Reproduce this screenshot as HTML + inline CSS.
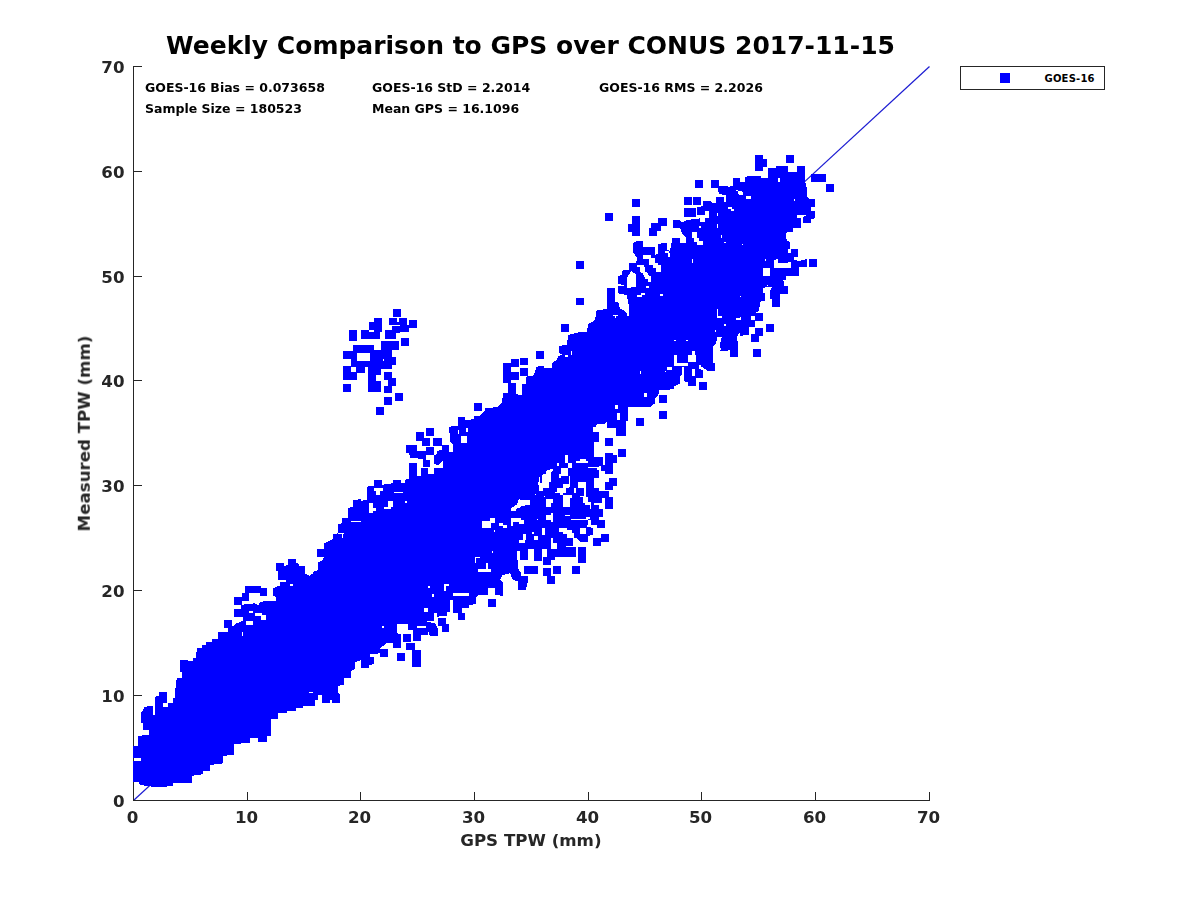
<!DOCTYPE html>
<html lang="en">
<head>
<meta charset="utf-8">
<title>Weekly Comparison to GPS over CONUS 2017-11-15</title>
<style>
html,body{margin:0;padding:0;background:#fff;}
body{width:1200px;height:900px;overflow:hidden;}
svg{display:block;}
text{font-family:"DejaVu Sans","Liberation Sans",sans-serif;font-weight:bold;}
.title{font-size:25px;fill:#000;}
.tick{font-size:16.67px;fill:#262626;}
.lab{font-size:16.67px;fill:#262626;}
.stat{font-size:12.5px;fill:#000;}
.leg{font-size:10px;fill:#000;}
</style>
</head>
<body>
<svg width="1200" height="900" viewBox="0 0 1200 900">
<rect x="0" y="0" width="1200" height="900" fill="#ffffff"/>
<line x1="133.5" y1="800.5" x2="929.5" y2="66.5" stroke="#1c1cd2" stroke-width="1.2"/>
<g fill="#262626" stroke="none" shape-rendering="crispEdges">
<rect x="133" y="66" width="1" height="735"/>
<rect x="133" y="800" width="797" height="1"/>
<rect x="133" y="792" width="1" height="9"/>
<rect x="247" y="792" width="1" height="9"/>
<rect x="360" y="792" width="1" height="9"/>
<rect x="474" y="792" width="1" height="9"/>
<rect x="588" y="792" width="1" height="9"/>
<rect x="701" y="792" width="1" height="9"/>
<rect x="815" y="792" width="1" height="9"/>
<rect x="929" y="792" width="1" height="9"/>
<rect x="133" y="66" width="9" height="1"/>
<rect x="133" y="171" width="9" height="1"/>
<rect x="133" y="276" width="9" height="1"/>
<rect x="133" y="380" width="9" height="1"/>
<rect x="133" y="485" width="9" height="1"/>
<rect x="133" y="590" width="9" height="1"/>
<rect x="133" y="695" width="9" height="1"/>
<rect x="133" y="800" width="9" height="1"/>
</g>
<g fill="#0000ff" stroke="none" shape-rendering="crispEdges">
<polygon points="132.5,781.7 132.5,760.8 140.8,760.8 140.8,757.5 132.5,757.5 132.5,745.8 138.3,745.8 138.3,735.8 149.2,735.0 149.2,730.0 143.3,730.0 143.3,723.3 141.3,723.3 141.3,712.5 145.0,706.7 152.5,705.8 153.3,715.0 155.0,715.0 155.0,696.7 159.2,695.8 159.2,691.7 166.7,691.7 166.7,703.3 163.3,703.3 163.3,706.7 167.5,706.7 167.5,703.0 172.5,703.0 172.5,698.3 175.0,698.3 175.0,691.7 176.7,678.3 181.7,678.3 181.7,671.7 180.0,671.7 180.0,659.7 187.5,659.7 187.5,661.3 193.3,661.3 193.3,657.5 195.8,657.5 196.7,650.0 330.0,650.0 330.0,702.5 321.7,702.5 321.7,695.0 317.5,695.0 317.5,700.0 315.0,700.0 315.0,705.8 303.3,705.8 303.3,707.5 295.8,707.5 295.8,710.8 286.7,710.8 286.7,713.3 277.5,713.3 277.5,719.2 270.8,719.2 270.8,735.8 266.7,735.8 266.7,741.7 257.5,741.7 257.5,738.3 250.0,738.3 250.0,742.5 234.2,744.2 234.2,755.0 223.3,755.8 223.3,763.3 210.0,765.0 210.0,770.8 203.3,770.8 203.3,774.2 191.7,775.8 191.7,783.3 173.3,783.3 173.3,785.8 158.3,787.5 140.0,785.0 138.3,781.7"/>
<polygon points="196.7,650.0 196.7,647.5 201.7,647.5 201.7,645.0 205.8,645.0 205.8,641.7 211.7,641.7 211.7,638.7 218.3,638.7 218.3,632.5 227.5,631.7 227.5,628.3 234.2,625.8 236.7,623.3 243.3,620.8 243.3,616.7 245.0,616.7 245.0,609.2 240.8,609.2 240.8,605.0 246.7,604.2 255.0,603.3 258.3,605.0 260.0,601.7 275.8,600.8 275.8,596.7 272.5,595.8 272.5,588.3 276.7,586.7 280.0,585.8 280.0,581.7 285.8,581.7 285.8,580.0 278.3,579.7 278.3,570.8 276.3,570.8 276.3,563.3 284.2,563.0 284.2,566.7 288.3,564.2 288.3,559.2 295.8,559.2 295.8,563.3 298.3,563.3 299.2,565.8 305.0,565.8 305.0,573.3 309.2,575.8 313.3,573.3 313.3,571.7 318.3,570.0 318.3,562.5 321.7,560.8 324.2,557.5 316.7,556.7 316.7,549.2 324.2,549.2 324.2,543.3 330.0,540.8 330.0,650.0"/>
<polygon points="330.0,700.0 340.0,700.0 340.0,695.0 337.5,691.7 337.5,685.8 344.2,685.0 344.2,678.3 350.8,677.5 350.8,670.8 355.0,669.2 355.0,662.5 360.8,660.0 360.8,668.3 369.2,668.3 369.2,665.0 373.7,664.2 373.7,656.7 370.0,656.7 370.0,654.2 380.0,653.3 380.0,648.3 386.7,643.3 392.5,642.5 392.5,648.3 400.8,648.3 400.8,634.2 396.7,633.3 396.7,624.2 408.3,624.2 408.3,630.0 412.5,630.0 412.5,640.8 420.8,640.8 420.8,635.0 428.3,635.0 428.3,631.7 430.0,635.8 437.5,635.8 437.5,628.3 435.0,623.3 426.7,621.7 426.7,620.0 434.2,619.2 434.2,612.5 436.7,612.5 436.7,616.7 446.7,615.8 446.7,612.5 450.0,611.7 450.0,600.0 453.3,600.0 453.3,612.5 457.5,613.3 457.5,620.0 464.7,620.0 464.7,613.3 461.7,612.5 461.7,608.3 469.2,608.3 469.2,605.0 475.8,604.2 475.8,598.3 478.3,595.0 488.3,595.0 488.3,587.5 495.0,587.5 495.0,595.0 502.5,595.0 502.5,582.5 500.0,580.0 502.5,575.0 510.0,573.3 512.5,579.2 519.2,580.8 518.3,589.2 525.8,589.2 525.8,581.7 527.5,576.7 520.8,575.8 520.0,571.7 517.5,566.7 518.3,557.5 520.0,557.5 520.0,550.0 330.0,550.0"/>
<polygon points="330.0,550.0 330.0,540.8 333.3,538.3 333.3,534.2 338.3,533.3 338.3,524.2 341.7,523.3 341.7,518.3 347.5,517.5 347.5,508.3 353.3,506.7 353.3,500.0 360.8,499.2 360.8,500.8 366.7,500.0 366.7,486.7 374.2,485.8 374.2,480.8 381.7,480.8 381.7,485.0 385.0,484.2 393.3,483.3 393.3,480.0 400.8,480.0 400.8,483.3 405.0,482.5 405.0,480.0 409.2,478.3 409.2,463.3 416.7,463.0 416.7,475.8 420.8,475.8 420.8,467.5 428.3,467.5 428.3,473.3 433.3,474.2 433.3,468.3 443.3,468.3 443.3,460.0 438.3,465.0 434.2,464.2 434.2,456.7 430.0,455.0 430.0,466.7 423.3,466.7 423.3,459.2 416.7,458.3 410.0,458.3 409.2,453.0 405.8,452.5 405.8,445.3 416.7,445.3 416.7,450.8 425.8,450.8 425.8,447.2 434.2,447.2 434.2,455.0 436.7,454.2 436.7,450.8 441.7,450.0 441.7,445.0 449.2,445.0 449.2,451.7 452.5,451.7 452.5,444.2 450.0,441.7 449.2,426.7 457.5,425.8 457.5,416.7 465.0,416.7 465.0,420.0 474.2,419.2 474.2,415.8 480.0,415.8 484.2,412.5 485.8,407.5 493.3,407.5 501.7,406.7 503.3,400.0 530.0,400.0 530.0,550.0"/>
<polygon points="480.0,410.0 486.7,410.0 486.7,407.5 496.7,407.5 501.7,403.3 503.3,393.3 507.5,392.5 507.5,383.3 515.8,382.5 515.8,394.2 521.7,395.0 521.7,384.2 525.8,384.2 525.8,376.7 533.3,375.8 536.7,366.7 544.2,365.8 544.2,368.3 551.7,367.5 551.7,363.3 556.7,360.0 558.3,355.8 563.3,355.0 559.2,353.3 559.2,345.8 566.7,345.0 568.3,335.0 578.3,332.5 586.7,331.7 588.3,324.2 595.0,320.0 596.7,310.0 606.7,309.2 607.5,288.3 615.0,288.3 615.0,301.7 618.3,302.5 620.0,308.3 625.8,311.7 627.5,315.8 629.2,315.8 629.2,306.7 626.7,295.0 618.3,293.3 618.3,286.7 625.8,285.0 618.3,284.2 618.3,276.7 621.7,275.8 622.5,270.8 629.2,270.0 629.2,265.0 635.8,263.3 636.7,260.0 680.0,260.0 680.0,383.3 673.3,386.7 673.3,389.2 659.2,390.0 659.2,393.3 655.0,399.2 655.0,403.3 650.0,406.7 626.7,406.7 626.7,410.0"/>
<polygon points="485.8,410.0 628.3,410.0 628.3,420.0 625.8,420.8 625.8,430.0 623.3,435.8 616.7,435.8 615.8,426.7 608.3,427.5 606.7,421.7 596.7,421.7 596.7,425.0 592.5,425.8 592.5,431.7 598.3,432.5 598.3,441.7 594.2,442.5 594.2,457.5 600.0,457.5 602.5,463.3 603.3,456.7 605.8,453.3 613.3,454.2 616.7,455.8 616.7,463.3 613.3,463.3 613.3,473.3 603.3,473.3 600.8,466.7 596.7,467.5 599.2,470.8 599.2,478.3 595.0,478.3 593.3,483.3 585.8,483.3 586.7,485.8 596.7,486.7 599.2,490.8 608.3,490.8 608.3,496.7 613.3,496.7 613.3,508.3 605.0,508.3 605.0,500.8 601.7,500.0 600.8,509.2 603.3,510.0 603.3,516.7 600.0,520.0 605.0,520.8 605.0,527.5 596.7,527.5 596.7,523.3 591.7,523.3 590.8,516.7 586.7,518.3 589.2,526.7 593.3,528.3 593.3,535.0 588.3,535.8 588.3,541.7 580.0,541.7 576.7,538.3 573.3,538.3 573.3,545.8 565.0,545.8 565.0,548.3 575.8,549.2 575.8,556.7 555.0,557.5 555.0,560.0 480.0,560.0 480.0,415.8"/>
<polygon points="500.0,540.0 518.3,540.0 518.3,551.7 516.7,570.0 520.8,572.5 520.8,575.8 527.5,575.8 527.5,583.3 525.8,590.0 518.0,590.0 518.0,581.7 512.5,579.2 510.8,571.7 506.7,573.3 500.0,570.0"/>
<polygon points="618.3,290.0 618.3,285.8 626.7,285.8 626.7,283.3 618.3,283.3 618.3,275.8 623.3,275.0 623.3,270.0 629.2,270.0 629.2,263.3 636.7,263.3 636.7,256.7 633.3,253.3 632.5,243.3 636.7,240.8 643.3,240.8 643.3,246.7 646.7,246.7 655.0,246.7 655.0,255.0 658.3,253.3 657.5,244.2 666.7,242.5 666.7,250.0 670.0,250.8 672.5,238.3 680.0,238.3 680.0,242.5 685.8,242.5 685.8,237.5 682.5,234.2 680.0,228.3 673.3,227.5 672.5,220.0 680.0,220.0 681.7,222.5 687.5,220.0 700.0,218.3 701.7,221.7 706.7,221.7 707.5,217.5 709.2,211.7 705.0,213.3 705.0,214.2 697.5,214.2 697.5,206.7 704.2,206.7 703.3,201.3 710.0,200.8 712.5,203.3 715.8,202.5 716.7,197.5 724.2,197.5 724.2,202.5 725.8,201.7 725.8,195.0 719.2,194.2 718.3,188.3 711.7,187.5 711.3,180.0 719.2,180.0 719.2,185.8 726.7,185.8 728.3,188.3 732.5,185.8 732.5,178.3 740.0,178.3 740.0,181.7 745.0,181.7 745.0,176.7 760.0,175.8 760.0,290.0"/>
<polygon points="700.0,280.0 700.0,206.7 703.3,205.8 703.3,201.7 710.8,201.3 710.8,204.2 715.8,203.3 715.8,197.5 724.2,196.7 724.2,203.3 726.7,203.3 726.7,194.2 723.3,194.2 718.3,191.7 718.3,186.7 727.5,185.8 727.5,187.5 732.5,185.8 732.5,178.3 740.0,178.3 740.0,182.5 745.0,181.7 745.0,178.3 747.5,176.3 760.8,176.3 761.7,178.3 768.0,178.3 768.0,168.0 775.8,168.0 775.8,165.8 787.5,165.8 787.5,171.7 796.7,172.5 797.0,166.3 804.7,166.3 804.7,180.0 806.7,187.5 806.7,196.7 809.2,199.2 815.0,199.2 815.0,206.7 811.3,207.5 811.3,210.8 815.0,211.3 815.0,218.3 810.8,219.2 810.8,223.3 803.3,223.3 803.3,216.7 806.7,215.0 796.7,215.3 796.7,218.3 800.8,218.3 800.8,227.5 792.5,227.5 792.5,231.7 786.7,231.7 785.8,235.8 778.3,235.8 778.3,234.2 785.8,233.3 786.7,240.8 790.0,241.7 790.0,249.2 798.3,249.2 798.3,256.7 794.2,257.5 794.2,260.0 799.2,260.8 806.7,259.2 806.7,266.7 799.2,267.0 799.2,275.8 785.8,275.8 785.8,280.0"/>
<polygon points="799.2,270.0 799.2,275.8 786.7,275.8 783.3,280.0 784.2,285.8 788.0,286.3 788.0,293.3 780.0,293.7 780.0,306.7 772.2,306.7 772.2,299.2 770.0,298.3 770.0,290.8 772.5,286.7 766.7,286.7 763.3,288.3 763.3,292.5 765.0,293.3 765.0,300.8 760.0,301.7 759.2,310.8 755.0,313.0 755.0,320.0 755.0,326.7 749.2,327.5 749.2,335.0 740.0,335.8 740.0,332.5 736.7,336.7 737.5,340.8 737.5,356.7 730.0,356.7 730.0,350.0 720.8,350.8 720.0,344.2 721.7,336.7 717.5,336.7 715.8,343.3 713.3,346.7 707.5,346.7 713.3,347.5 713.3,362.5 715.0,363.3 715.0,370.8 707.5,370.8 700.0,365.8 699.2,369.2 691.7,368.3 691.7,362.5 695.8,360.8 696.7,356.7 695.0,351.7 691.7,351.7 691.7,355.8 687.5,356.7 687.5,362.5 675.8,362.5 675.8,355.0 674.2,355.8 674.2,365.0 681.7,366.3 681.7,374.2 680.0,377.5 674.2,378.0 674.2,389.2 666.7,389.7 660.0,386.7 660.0,270.0"/>
<polygon points="713.3,350.0 713.3,362.5 715.0,363.3 715.0,370.8 707.5,370.8 706.7,365.8 700.8,365.8 699.2,369.2 703.3,370.0 703.3,377.5 695.8,377.5 695.8,385.8 688.3,385.8 688.3,381.7 684.2,380.8 684.2,366.7 681.7,366.7 681.7,374.2 680.0,377.5 674.2,378.3 674.2,389.2 666.7,389.7 658.3,389.2 658.3,393.3 655.0,394.2 655.0,400.8 650.8,401.7 650.8,406.7 643.3,406.7 642.5,403.3 638.3,403.3 637.5,406.7 628.3,406.7 627.5,408.3 627.5,420.8 625.8,421.7 625.8,430.0 624.2,430.8 624.2,435.8 616.3,435.8 616.3,427.5 607.5,427.5 606.7,421.7 605.0,424.2 596.7,424.2 596.7,421.7 595.8,426.7 592.0,426.7 592.0,431.7 599.2,432.5 599.2,441.7 594.2,442.5 594.2,456.7 602.5,457.5 602.5,465.0 605.0,465.0 605.0,454.2 612.5,453.3 616.7,455.0 616.7,462.5 612.5,463.3 612.5,473.3 605.0,473.7 601.7,470.0 600.8,465.8 599.2,466.7 599.2,477.5 594.2,478.3 594.2,484.2 596.7,488.3 603.3,491.7 608.3,491.7 609.2,496.7 612.5,497.5 612.5,500.0 580.0,500.0 580.0,350.0"/>
</g>
<g fill="#ffffff" stroke="none" shape-rendering="crispEdges">
<rect x="309.2" y="691.7" width="3.3" height="1.3"/>
<rect x="289.7" y="583.8" width="3.3" height="2.3"/>
<rect x="242.0" y="632.0" width="1.3" height="3.8"/>
<rect x="249.2" y="610.8" width="3.8" height="2.2"/>
<rect x="255.3" y="613.0" width="6.3" height="2.8"/>
<rect x="260.8" y="615.0" width="5.5" height="5.0"/>
<rect x="246.3" y="621.3" width="6.7" height="3.3"/>
<rect x="474.7" y="556.7" width="5.3" height="1.3"/>
<rect x="474.7" y="556.7" width="1.7" height="5.8"/>
<rect x="478.3" y="569.2" width="12.5" height="2.5"/>
<rect x="485.8" y="563.3" width="2.2" height="8.3"/>
<rect x="453.3" y="592.5" width="15.8" height="3.3"/>
<rect x="444.2" y="584.2" width="4.5" height="1.7"/>
<rect x="444.2" y="584.2" width="1.3" height="6.7"/>
<rect x="416.7" y="626.3" width="9.2" height="2.0"/>
<rect x="424.2" y="607.5" width="3.8" height="4.2"/>
<rect x="381.7" y="625.8" width="2.2" height="2.2"/>
<rect x="432.0" y="593.7" width="2.0" height="3.3"/>
<rect x="428.3" y="585.8" width="1.7" height="2.2"/>
<rect x="517.5" y="550.8" width="2.2" height="6.7"/>
<rect x="457.5" y="429.7" width="1.7" height="4.5"/>
<rect x="461.2" y="435.8" width="5.5" height="7.2"/>
<rect x="466.3" y="428.3" width="1.7" height="3.3"/>
<rect x="369.2" y="503.3" width="4.2" height="9.2"/>
<rect x="372.5" y="507.5" width="3.3" height="3.3"/>
<rect x="388.3" y="500.8" width="4.7" height="5.8"/>
<rect x="384.2" y="506.7" width="6.7" height="2.5"/>
<rect x="394.2" y="491.7" width="9.2" height="1.3"/>
<rect x="405.0" y="500.8" width="2.0" height="2.2"/>
<rect x="350.8" y="520.8" width="10.0" height="1.2"/>
<rect x="374.2" y="488.3" width="9.2" height="2.5"/>
<rect x="375.8" y="490.8" width="4.2" height="4.2"/>
<rect x="426.3" y="455.3" width="7.8" height="4.3"/>
<rect x="428.3" y="466.7" width="5.8" height="7.5"/>
<rect x="511.7" y="508.3" width="4.2" height="2.5"/>
<rect x="515.0" y="505.0" width="5.0" height="3.3"/>
<rect x="518.3" y="500.0" width="11.7" height="5.0"/>
<rect x="482.5" y="522.5" width="8.3" height="5.0"/>
<rect x="490.0" y="517.5" width="5.0" height="5.0"/>
<rect x="511.7" y="518.7" width="8.3" height="2.2"/>
<rect x="511.3" y="518.7" width="2.0" height="7.2"/>
<rect x="520.0" y="520.0" width="3.3" height="3.3"/>
<rect x="499.2" y="523.7" width="4.2" height="2.2"/>
<rect x="502.5" y="525.3" width="4.2" height="2.7"/>
<rect x="519.2" y="540.0" width="5.0" height="3.0"/>
<rect x="523.3" y="534.2" width="2.5" height="8.8"/>
<rect x="338.3" y="532.5" width="5.8" height="1.3"/>
<rect x="342.0" y="532.5" width="1.0" height="5.8"/>
<rect x="636.7" y="265.0" width="7.5" height="1.7"/>
<rect x="640.8" y="266.7" width="3.3" height="5.8"/>
<rect x="644.2" y="272.5" width="3.3" height="4.2"/>
<rect x="647.5" y="275.8" width="3.3" height="5.8"/>
<rect x="649.2" y="260.0" width="5.0" height="5.0"/>
<rect x="654.2" y="263.3" width="3.3" height="4.2"/>
<rect x="657.5" y="265.0" width="3.3" height="6.7"/>
<rect x="640.8" y="292.5" width="4.2" height="2.8"/>
<rect x="636.7" y="295.0" width="5.0" height="2.0"/>
<rect x="645.8" y="285.8" width="3.3" height="2.2"/>
<rect x="659.7" y="294.2" width="3.3" height="1.7"/>
<rect x="613.3" y="315.0" width="4.2" height="1.2"/>
<rect x="615.0" y="316.2" width="1.3" height="1.8"/>
<rect x="565.0" y="355.0" width="3.0" height="2.0"/>
<rect x="570.8" y="351.2" width="1.2" height="3.8"/>
<rect x="674.2" y="355.3" width="2.5" height="9.7"/>
<rect x="676.7" y="362.5" width="3.3" height="3.3"/>
<rect x="666.7" y="366.7" width="5.0" height="3.3"/>
<rect x="640.0" y="370.8" width="1.0" height="3.0"/>
<rect x="644.2" y="392.5" width="3.0" height="4.5"/>
<rect x="615.0" y="405.0" width="3.0" height="4.2"/>
<rect x="673.8" y="339.7" width="2.2" height="1.3"/>
<polygon points="630.8,270.8 635.8,274.2 635.8,285.0 630.8,287.5 626.7,287.5 626.7,277.5 630.8,276.7"/>
<rect x="565.0" y="455.0" width="3.0" height="8.3"/>
<rect x="566.7" y="463.3" width="5.0" height="4.2"/>
<rect x="560.8" y="467.5" width="7.5" height="8.3"/>
<rect x="559.2" y="473.3" width="2.5" height="4.2"/>
<rect x="557.0" y="463.0" width="2.2" height="2.8"/>
<rect x="556.7" y="487.5" width="9.2" height="5.8"/>
<rect x="562.5" y="493.3" width="7.5" height="13.3"/>
<rect x="566.7" y="485.0" width="3.3" height="3.3"/>
<rect x="578.3" y="481.7" width="7.5" height="6.7"/>
<rect x="580.0" y="488.3" width="4.2" height="8.3"/>
<rect x="582.5" y="495.8" width="5.0" height="7.5"/>
<rect x="574.2" y="487.5" width="2.2" height="5.8"/>
<rect x="588.3" y="467.5" width="10.8" height="1.2"/>
<rect x="545.8" y="500.8" width="7.5" height="5.8"/>
<rect x="545.8" y="514.2" width="7.2" height="7.2"/>
<rect x="481.7" y="520.8" width="9.2" height="6.7"/>
<rect x="490.8" y="517.5" width="4.2" height="4.2"/>
<rect x="499.2" y="523.3" width="3.3" height="2.5"/>
<rect x="502.5" y="525.0" width="4.2" height="2.5"/>
<rect x="510.8" y="518.3" width="10.0" height="3.3"/>
<rect x="510.8" y="518.3" width="2.5" height="7.5"/>
<rect x="519.2" y="520.0" width="4.5" height="4.2"/>
<rect x="536.7" y="518.7" width="1.3" height="1.3"/>
<rect x="565.0" y="514.7" width="5.0" height="1.3"/>
<rect x="570.8" y="518.7" width="19.2" height="1.3"/>
<rect x="586.7" y="517.5" width="4.2" height="9.2"/>
<rect x="559.2" y="528.3" width="7.5" height="3.3"/>
<rect x="563.3" y="530.0" width="8.3" height="4.2"/>
<rect x="566.7" y="533.3" width="7.5" height="5.0"/>
<rect x="580.0" y="527.5" width="5.8" height="6.7"/>
<rect x="541.7" y="527.5" width="3.3" height="7.5"/>
<rect x="531.7" y="531.7" width="2.5" height="2.5"/>
<rect x="533.7" y="535.8" width="4.3" height="5.0"/>
<rect x="524.2" y="534.2" width="2.2" height="5.8"/>
<rect x="519.2" y="539.7" width="5.0" height="3.3"/>
<rect x="550.8" y="538.3" width="2.5" height="10.0"/>
<rect x="553.3" y="543.3" width="3.3" height="5.0"/>
<rect x="565.0" y="544.2" width="1.7" height="2.5"/>
<rect x="517.0" y="550.8" width="3.0" height="9.2"/>
<rect x="528.3" y="549.2" width="5.8" height="10.8"/>
<rect x="542.0" y="549.2" width="5.0" height="10.8"/>
<rect x="493.7" y="529.7" width="1.3" height="2.0"/>
<rect x="492.0" y="550.8" width="1.0" height="2.5"/>
<rect x="535.0" y="494.2" width="1.3" height="1.2"/>
<rect x="544.2" y="495.8" width="1.2" height="1.2"/>
<rect x="590.0" y="505.0" width="1.3" height="3.3"/>
<rect x="600.0" y="465.8" width="1.2" height="5.0"/>
<rect x="617.5" y="413.3" width="2.2" height="6.7"/>
<rect x="604.2" y="500.0" width="1.2" height="3.3"/>
<polygon points="575.8,461.7 580.0,459.2 585.8,459.2 588.0,463.0 575.8,463.0"/>
<polygon points="546.7,470.0 552.5,469.2 551.7,476.7 550.0,483.3 543.3,484.2 542.5,490.8 539.2,490.8 538.3,483.3 540.0,475.0 545.8,474.2"/>
<polygon points="519.2,499.2 522.5,500.8 530.0,500.8 530.0,505.0 522.5,505.8 516.7,508.3 515.8,510.8 510.8,510.8 511.7,507.5 516.7,505.0"/>
<rect x="691.7" y="231.7" width="5.0" height="6.7"/>
<rect x="694.2" y="237.5" width="5.0" height="4.2"/>
<rect x="696.7" y="240.8" width="6.3" height="4.2"/>
<rect x="643.3" y="255.0" width="7.5" height="4.2"/>
<rect x="649.2" y="258.3" width="5.8" height="5.8"/>
<rect x="653.3" y="263.3" width="5.0" height="5.0"/>
<rect x="655.8" y="266.7" width="5.0" height="5.0"/>
<rect x="636.7" y="265.0" width="5.0" height="1.7"/>
<rect x="640.0" y="266.7" width="5.0" height="5.0"/>
<rect x="642.5" y="271.7" width="4.2" height="3.7"/>
<rect x="645.0" y="275.0" width="4.2" height="4.2"/>
<rect x="647.5" y="278.3" width="3.3" height="3.3"/>
<rect x="665.0" y="250.8" width="4.2" height="2.5"/>
<rect x="668.3" y="253.3" width="1.3" height="3.3"/>
<rect x="745.8" y="195.8" width="5.0" height="3.3"/>
<rect x="735.8" y="189.7" width="2.5" height="1.3"/>
<rect x="738.0" y="191.7" width="4.5" height="2.5"/>
<rect x="728.3" y="206.7" width="3.3" height="2.0"/>
<rect x="731.7" y="208.7" width="2.5" height="2.2"/>
<rect x="716.7" y="212.5" width="1.3" height="3.3"/>
<rect x="716.7" y="224.2" width="1.3" height="4.2"/>
<rect x="720.8" y="235.8" width="1.2" height="2.2"/>
<rect x="724.2" y="241.7" width="1.7" height="1.3"/>
<rect x="741.7" y="243.7" width="1.7" height="1.3"/>
<rect x="691.7" y="258.7" width="1.3" height="4.3"/>
<rect x="699.2" y="225.8" width="2.2" height="2.2"/>
<rect x="646.2" y="285.8" width="3.0" height="2.2"/>
<polygon points="630.8,271.7 635.8,278.3 635.8,286.7 626.7,286.7 626.7,278.3"/>
<rect x="745.8" y="195.8" width="5.0" height="3.0"/>
<rect x="778.0" y="178.0" width="2.0" height="4.0"/>
<rect x="737.5" y="191.3" width="4.2" height="2.0"/>
<rect x="739.2" y="193.0" width="3.8" height="2.0"/>
<rect x="728.0" y="207.0" width="3.7" height="1.7"/>
<rect x="730.8" y="208.7" width="3.3" height="2.2"/>
<rect x="700.0" y="215.0" width="5.0" height="6.7"/>
<rect x="705.0" y="211.3" width="3.7" height="6.2"/>
<rect x="716.7" y="212.5" width="1.3" height="3.3"/>
<rect x="716.7" y="224.2" width="1.3" height="4.2"/>
<rect x="720.8" y="235.3" width="1.2" height="2.7"/>
<rect x="724.2" y="242.0" width="2.2" height="1.3"/>
<rect x="741.7" y="243.7" width="1.3" height="1.3"/>
<rect x="700.0" y="242.0" width="3.0" height="2.7"/>
<rect x="763.0" y="268.3" width="7.0" height="8.0"/>
<rect x="788.0" y="249.2" width="2.8" height="3.8"/>
<rect x="764.7" y="258.7" width="1.3" height="2.2"/>
<rect x="793.8" y="198.7" width="1.2" height="2.2"/>
<polygon points="774.2,260.0 777.5,259.2 777.5,263.0 788.3,262.5 790.8,261.7 790.8,268.0 774.2,268.0"/>
<rect x="763.3" y="270.0" width="6.7" height="5.8"/>
<rect x="716.7" y="309.2" width="1.3" height="8.3"/>
<rect x="718.0" y="316.3" width="4.0" height="1.7"/>
<rect x="736.3" y="317.5" width="4.8" height="2.5"/>
<rect x="740.0" y="316.7" width="1.2" height="3.3"/>
<rect x="724.2" y="323.7" width="2.0" height="2.5"/>
<rect x="750.8" y="315.8" width="4.2" height="4.2"/>
<rect x="674.2" y="339.7" width="2.0" height="1.2"/>
<rect x="686.2" y="340.0" width="1.8" height="1.0"/>
<rect x="660.0" y="294.2" width="3.0" height="1.2"/>
<rect x="740.0" y="295.8" width="1.2" height="1.3"/>
<rect x="715.0" y="330.0" width="1.2" height="2.0"/>
<rect x="666.7" y="367.0" width="5.3" height="3.0"/>
<rect x="767.2" y="284.7" width="1.2" height="1.7"/>
<rect x="674.2" y="355.0" width="2.5" height="10.8"/>
<rect x="676.7" y="362.5" width="11.7" height="3.3"/>
<rect x="688.3" y="355.0" width="7.5" height="6.7"/>
<rect x="692.0" y="350.8" width="3.0" height="5.0"/>
<rect x="666.7" y="366.7" width="5.5" height="3.3"/>
<rect x="692.0" y="369.2" width="3.0" height="6.7"/>
<rect x="699.2" y="365.0" width="1.7" height="3.7"/>
<rect x="640.0" y="370.8" width="1.0" height="3.0"/>
<rect x="644.2" y="392.5" width="3.0" height="4.7"/>
<rect x="615.0" y="405.0" width="3.0" height="4.2"/>
<rect x="617.0" y="413.3" width="3.0" height="6.3"/>
<rect x="580.0" y="459.2" width="7.5" height="4.2"/>
<rect x="588.3" y="466.7" width="10.8" height="1.3"/>
<rect x="580.0" y="488.3" width="3.3" height="8.3"/>
<rect x="665.3" y="370.8" width="1.0" height="1.3"/>
</g>
<g fill="#0000ff" stroke="none" shape-rendering="crispEdges">
<rect x="224.2" y="620.3" width="7.8" height="8.0"/>
<rect x="234.2" y="609.2" width="10.8" height="7.5"/>
<rect x="234.2" y="596.7" width="7.5" height="8.3"/>
<rect x="241.7" y="593.3" width="7.5" height="7.5"/>
<rect x="245.0" y="586.3" width="15.8" height="7.0"/>
<rect x="260.0" y="588.3" width="7.0" height="8.0"/>
<rect x="380.0" y="649.2" width="7.8" height="7.5"/>
<rect x="397.2" y="653.0" width="7.8" height="7.8"/>
<rect x="403.3" y="634.2" width="7.8" height="7.8"/>
<rect x="405.8" y="642.5" width="9.2" height="7.5"/>
<rect x="412.2" y="649.7" width="8.7" height="8.7"/>
<rect x="411.7" y="658.3" width="9.2" height="8.3"/>
<rect x="488.3" y="598.8" width="7.8" height="7.8"/>
<rect x="438.3" y="618.0" width="7.5" height="7.8"/>
<rect x="441.7" y="624.2" width="7.2" height="7.5"/>
<rect x="524.2" y="565.8" width="5.8" height="7.5"/>
<rect x="520.8" y="550.8" width="6.7" height="7.5"/>
<rect x="417.5" y="613.0" width="16.7" height="7.8"/>
<rect x="376.3" y="407.2" width="7.8" height="7.8"/>
<rect x="384.2" y="400.0" width="7.5" height="4.2"/>
<rect x="474.2" y="403.0" width="7.8" height="7.8"/>
<rect x="425.8" y="428.0" width="7.8" height="7.8"/>
<rect x="416.3" y="432.2" width="7.8" height="8.7"/>
<rect x="421.7" y="437.5" width="8.3" height="8.3"/>
<rect x="432.5" y="438.3" width="9.5" height="8.0"/>
<rect x="425.8" y="447.2" width="8.3" height="7.8"/>
<rect x="374.2" y="480.0" width="7.8" height="8.0"/>
<rect x="576.3" y="261.3" width="7.5" height="7.5"/>
<rect x="576.3" y="297.5" width="7.5" height="7.5"/>
<rect x="561.3" y="324.2" width="7.8" height="7.8"/>
<rect x="536.2" y="351.2" width="7.7" height="7.7"/>
<rect x="520.0" y="357.5" width="7.8" height="7.8"/>
<rect x="659.2" y="395.0" width="7.5" height="7.5"/>
<rect x="503.3" y="363.3" width="7.5" height="8.0"/>
<rect x="503.3" y="371.3" width="7.5" height="12.0"/>
<rect x="510.8" y="359.2" width="7.8" height="7.5"/>
<rect x="510.8" y="372.0" width="7.8" height="8.0"/>
<rect x="520.0" y="368.3" width="7.8" height="7.8"/>
<rect x="507.5" y="383.3" width="8.3" height="10.0"/>
<rect x="659.2" y="411.3" width="7.8" height="7.5"/>
<rect x="636.3" y="418.0" width="7.8" height="7.8"/>
<rect x="605.3" y="438.3" width="7.7" height="7.5"/>
<rect x="618.0" y="449.2" width="7.8" height="7.8"/>
<rect x="609.2" y="478.0" width="7.8" height="7.8"/>
<rect x="605.0" y="482.0" width="7.8" height="7.7"/>
<rect x="600.8" y="534.2" width="7.8" height="7.5"/>
<rect x="593.3" y="538.0" width="7.8" height="7.8"/>
<rect x="578.3" y="547.0" width="7.5" height="13.0"/>
<rect x="596.7" y="520.0" width="8.0" height="7.8"/>
<rect x="605.0" y="497.0" width="8.0" height="11.3"/>
<rect x="615.8" y="420.8" width="10.0" height="15.0"/>
<rect x="500.0" y="582.5" width="3.0" height="13.3"/>
<rect x="520.0" y="543.3" width="8.0" height="15.0"/>
<rect x="525.0" y="540.0" width="25.0" height="9.2"/>
<rect x="534.2" y="548.3" width="7.8" height="12.5"/>
<rect x="543.3" y="556.7" width="7.5" height="8.0"/>
<rect x="547.5" y="546.7" width="28.3" height="10.0"/>
<rect x="553.3" y="540.0" width="12.5" height="7.5"/>
<rect x="565.8" y="540.0" width="7.5" height="5.8"/>
<rect x="578.3" y="546.7" width="7.8" height="15.8"/>
<rect x="524.2" y="565.8" width="13.8" height="8.0"/>
<rect x="543.0" y="568.0" width="7.8" height="7.8"/>
<rect x="547.2" y="575.8" width="7.8" height="7.8"/>
<rect x="553.3" y="565.8" width="7.8" height="8.0"/>
<rect x="572.0" y="565.8" width="8.0" height="8.0"/>
<rect x="593.3" y="540.0" width="7.8" height="5.5"/>
<rect x="600.0" y="540.0" width="9.2" height="1.7"/>
<rect x="580.0" y="540.0" width="7.5" height="1.7"/>
<rect x="518.0" y="581.7" width="7.8" height="8.3"/>
<rect x="755.0" y="155.0" width="5.0" height="15.8"/>
<rect x="695.0" y="180.0" width="8.0" height="8.0"/>
<rect x="684.2" y="197.2" width="7.8" height="7.8"/>
<rect x="693.0" y="197.2" width="7.8" height="7.8"/>
<rect x="684.2" y="207.5" width="11.7" height="9.2"/>
<rect x="697.0" y="206.7" width="7.7" height="8.0"/>
<rect x="632.0" y="199.2" width="8.0" height="7.8"/>
<rect x="605.0" y="213.0" width="8.0" height="7.8"/>
<rect x="632.0" y="216.2" width="8.0" height="19.7"/>
<rect x="628.3" y="224.2" width="4.2" height="7.5"/>
<rect x="658.3" y="218.3" width="8.3" height="7.5"/>
<rect x="650.8" y="222.5" width="10.0" height="8.3"/>
<rect x="649.2" y="228.3" width="7.8" height="7.5"/>
<rect x="576.2" y="261.2" width="7.8" height="7.7"/>
<rect x="607.2" y="288.0" width="7.8" height="2.0"/>
<rect x="647.0" y="247.2" width="8.0" height="7.8"/>
<rect x="755.3" y="155.0" width="7.7" height="15.8"/>
<rect x="762.5" y="159.2" width="4.5" height="7.8"/>
<rect x="786.2" y="155.0" width="7.7" height="7.8"/>
<rect x="811.3" y="173.8" width="14.5" height="7.8"/>
<rect x="826.2" y="183.8" width="7.7" height="7.8"/>
<rect x="809.2" y="259.2" width="7.8" height="7.8"/>
<rect x="710.8" y="180.0" width="7.8" height="7.5"/>
<rect x="700.0" y="180.0" width="3.0" height="7.5"/>
<rect x="700.0" y="196.7" width="1.3" height="8.3"/>
<rect x="755.3" y="313.0" width="7.7" height="7.8"/>
<rect x="766.2" y="324.2" width="7.8" height="7.8"/>
<rect x="755.3" y="328.0" width="7.7" height="7.8"/>
<rect x="751.3" y="334.2" width="7.8" height="7.8"/>
<rect x="753.3" y="349.2" width="7.8" height="7.8"/>
<rect x="695.5" y="370.0" width="7.5" height="7.8"/>
<rect x="684.5" y="366.3" width="7.2" height="15.3"/>
<rect x="688.0" y="377.5" width="7.8" height="8.3"/>
<rect x="699.2" y="382.0" width="7.8" height="8.0"/>
<rect x="660.0" y="395.0" width="7.0" height="7.8"/>
<rect x="660.0" y="411.3" width="7.0" height="7.5"/>
<rect x="772.2" y="286.7" width="15.8" height="7.0"/>
<rect x="659.2" y="395.0" width="7.8" height="7.8"/>
<rect x="659.2" y="411.2" width="7.8" height="7.7"/>
<rect x="636.2" y="418.0" width="7.7" height="7.8"/>
<rect x="605.0" y="438.0" width="7.8" height="7.8"/>
<rect x="618.0" y="449.2" width="7.8" height="7.8"/>
<rect x="699.2" y="382.0" width="7.8" height="7.7"/>
<rect x="695.0" y="370.0" width="7.8" height="7.5"/>
<rect x="730.0" y="350.0" width="7.8" height="6.7"/>
<rect x="753.3" y="350.0" width="7.5" height="6.7"/>
<rect x="720.0" y="350.0" width="7.5" height="0.8"/>
<rect x="609.2" y="478.0" width="7.8" height="7.8"/>
<rect x="605.0" y="482.5" width="7.8" height="7.5"/>
<rect x="616.3" y="420.0" width="9.5" height="15.8"/>
<rect x="393.3" y="309.1" width="7.6" height="7.6"/>
<rect x="374.0" y="318.0" width="8.0" height="8.0"/>
<rect x="368.7" y="322.0" width="8.0" height="8.0"/>
<rect x="361.3" y="330.0" width="18.7" height="9.3"/>
<rect x="375.3" y="326.0" width="6.7" height="6.0"/>
<rect x="349.3" y="330.0" width="7.3" height="11.3"/>
<rect x="388.7" y="318.0" width="18.7" height="7.3"/>
<rect x="408.7" y="320.0" width="8.0" height="8.0"/>
<rect x="400.0" y="325.3" width="9.3" height="6.7"/>
<rect x="392.0" y="326.0" width="8.0" height="7.3"/>
<rect x="384.7" y="330.0" width="11.3" height="9.3"/>
<rect x="401.3" y="338.0" width="7.6" height="7.7"/>
<rect x="380.7" y="341.3" width="18.7" height="8.7"/>
<rect x="353.3" y="345.3" width="20.7" height="8.0"/>
<rect x="343.3" y="351.3" width="13.3" height="7.3"/>
<rect x="351.3" y="358.7" width="18.7" height="8.0"/>
<rect x="370.0" y="350.0" width="22.0" height="19.3"/>
<rect x="388.7" y="357.3" width="7.3" height="7.3"/>
<rect x="343.3" y="366.0" width="8.0" height="14.0"/>
<rect x="351.3" y="372.0" width="5.3" height="8.0"/>
<rect x="356.0" y="366.7" width="8.7" height="6.7"/>
<rect x="368.0" y="365.3" width="13.3" height="26.7"/>
<rect x="384.0" y="372.0" width="8.0" height="8.0"/>
<rect x="388.0" y="378.0" width="8.0" height="8.0"/>
<rect x="384.0" y="386.0" width="8.0" height="7.3"/>
<rect x="343.3" y="384.0" width="7.6" height="7.7"/>
<rect x="395.3" y="393.3" width="7.6" height="7.6"/>
<rect x="384.3" y="396.9" width="7.6" height="7.6"/>
<rect x="376.3" y="407.3" width="7.7" height="7.6"/>
<rect x="331.7" y="695.0" width="7.8" height="7.7"/>
</g>
<g fill="#ffffff" stroke="none" shape-rendering="crispEdges">
<rect x="368.7" y="330.0" width="5.3" height="2.0"/>
<rect x="376.0" y="375.3" width="5.5" height="6.0"/>
<rect x="382.7" y="358.7" width="1.3" height="2.7"/>
<rect x="357.3" y="353.3" width="12.7" height="7.3"/>
<rect x="396.7" y="318.0" width="2.7" height="4.0"/>
<rect x="351.3" y="366.7" width="4.7" height="5.3"/>
<rect x="551.3" y="543.3" width="5.8" height="5.5"/>
</g>
<g shape-rendering="crispEdges" stroke="none">
<g fill="#ffffff"><rect x="540.0" y="450.0" width="100.0" height="75.0"/>
</g>
<g fill="#0000ff">
<rect x="540.0" y="450.0" width="53.8" height="75.0"/>
<rect x="593.8" y="457.1" width="9.2" height="8.8"/>
<rect x="593.8" y="465.8" width="5.0" height="12.5"/>
<rect x="605.0" y="452.9" width="8.3" height="9.6"/>
<rect x="609.2" y="455.0" width="7.9" height="7.9"/>
<rect x="617.9" y="450.0" width="7.9" height="6.7"/>
<rect x="601.2" y="465.0" width="7.9" height="5.8"/>
<rect x="605.0" y="462.9" width="7.9" height="10.8"/>
<rect x="609.2" y="478.3" width="7.9" height="7.5"/>
<rect x="605.0" y="482.1" width="7.9" height="7.5"/>
<rect x="586.2" y="485.8" width="7.9" height="8.3"/>
<rect x="594.2" y="487.9" width="5.0" height="2.9"/>
<rect x="590.0" y="490.8" width="19.2" height="6.7"/>
<rect x="588.3" y="495.0" width="13.3" height="7.5"/>
<rect x="605.0" y="497.1" width="7.9" height="11.7"/>
<rect x="591.2" y="505.0" width="7.9" height="20.0"/>
<rect x="599.2" y="509.2" width="3.8" height="7.5"/>
<rect x="597.5" y="520.0" width="7.5" height="5.0"/>
</g>
<g fill="#ffffff">
<rect x="565.0" y="455.0" width="2.9" height="8.3"/>
<rect x="567.9" y="462.9" width="4.2" height="5.0"/>
<rect x="557.1" y="462.9" width="2.1" height="2.9"/>
<rect x="560.8" y="467.5" width="7.1" height="8.3"/>
<rect x="559.2" y="474.2" width="2.1" height="3.8"/>
<rect x="576.2" y="460.8" width="11.7" height="2.1"/>
<rect x="580.0" y="459.0" width="5.8" height="1.8"/>
<rect x="587.9" y="467.1" width="10.8" height="1.2"/>
<rect x="596.7" y="468.3" width="4.2" height="2.1"/>
<rect x="568.8" y="476.2" width="1.2" height="10.4"/>
<rect x="562.9" y="484.2" width="5.8" height="4.2"/>
<rect x="557.1" y="487.9" width="9.2" height="4.6"/>
<rect x="555.0" y="492.1" width="2.9" height="1.2"/>
<rect x="559.6" y="492.5" width="3.3" height="2.9"/>
<rect x="562.9" y="495.4" width="8.8" height="2.1"/>
<rect x="562.9" y="497.5" width="7.1" height="9.6"/>
<rect x="577.9" y="482.1" width="7.9" height="5.8"/>
<rect x="574.2" y="487.9" width="1.8" height="5.0"/>
<rect x="583.8" y="487.9" width="1.9" height="8.8"/>
<rect x="580.0" y="495.8" width="3.8" height="1.2"/>
<rect x="582.5" y="496.7" width="5.4" height="6.2"/>
<rect x="585.4" y="502.1" width="5.4" height="2.9"/>
<rect x="589.8" y="505.0" width="1.2" height="3.8"/>
<rect x="546.2" y="499.2" width="6.7" height="4.2"/>
<rect x="545.8" y="503.3" width="5.0" height="3.8"/>
<rect x="550.8" y="512.9" width="2.1" height="8.8"/>
<rect x="546.2" y="515.0" width="4.6" height="5.0"/>
<rect x="565.0" y="514.8" width="5.0" height="1.2"/>
<rect x="571.2" y="518.8" width="17.1" height="1.2"/>
<rect x="586.2" y="517.1" width="3.8" height="2.1"/>
<rect x="587.9" y="520.0" width="3.3" height="5.0"/>
<rect x="543.8" y="495.8" width="1.2" height="1.0"/>
<polygon points="552.9,469.3 548.3,469.6 546.2,471.2 545.8,473.8 542.9,474.2 541.7,475.8 541.7,483.3 540.0,483.3 540.0,490.8 543.3,490.8 543.3,488.3 548.8,487.9 548.8,482.1 550.8,481.7 550.8,476.7 551.7,470.8 552.9,470.4"/>
</g>
<g fill="#0000ff">
</g>
</g>
<g opacity="0.999">
<text class="tick" x="132.5" y="823.4" text-anchor="middle">0</text>
<text class="tick" x="246.5" y="823.4" text-anchor="middle">10</text>
<text class="tick" x="359.5" y="823.4" text-anchor="middle">20</text>
<text class="tick" x="473.5" y="823.4" text-anchor="middle">30</text>
<text class="tick" x="587.5" y="823.4" text-anchor="middle">40</text>
<text class="tick" x="700.5" y="823.4" text-anchor="middle">50</text>
<text class="tick" x="814.5" y="823.4" text-anchor="middle">60</text>
<text class="tick" x="928.5" y="823.4" text-anchor="middle">70</text>
<text class="tick" x="124.5" y="72.8" text-anchor="end">70</text>
<text class="tick" x="124.5" y="177.8" text-anchor="end">60</text>
<text class="tick" x="124.5" y="282.8" text-anchor="end">50</text>
<text class="tick" x="124.5" y="386.8" text-anchor="end">40</text>
<text class="tick" x="124.5" y="491.8" text-anchor="end">30</text>
<text class="tick" x="124.5" y="596.8" text-anchor="end">20</text>
<text class="tick" x="124.5" y="701.8" text-anchor="end">10</text>
<text class="tick" x="124.5" y="806.8" text-anchor="end">0</text>
<text class="lab" x="530.9" y="846.3" text-anchor="middle">GPS TPW (mm)</text>
<text class="lab" transform="translate(89.8,433.5) rotate(-90)" text-anchor="middle">Measured TPW (mm)</text>
<text class="title" x="530.5" y="54" text-anchor="middle">Weekly Comparison to GPS over CONUS 2017-11-15</text>
<text class="stat" x="145" y="92">GOES-16 Bias = 0.073658</text>
<text class="stat" x="145" y="113">Sample Size = 180523</text>
<text class="stat" x="372" y="92">GOES-16 StD = 2.2014</text>
<text class="stat" x="372" y="113">Mean GPS = 16.1096</text>
<text class="stat" x="599" y="92">GOES-16 RMS = 2.2026</text>
</g>
<rect x="960.5" y="66.5" width="144" height="23" fill="#fff" stroke="#262626" stroke-width="1" shape-rendering="crispEdges"/>
<rect x="1000" y="73" width="10" height="10" fill="#0000ff" shape-rendering="crispEdges"/>
<g opacity="0.999"><text class="leg" x="1044.5" y="82.1" textLength="50" lengthAdjust="spacing">GOES-16</text></g>
</svg>
</body>
</html>
